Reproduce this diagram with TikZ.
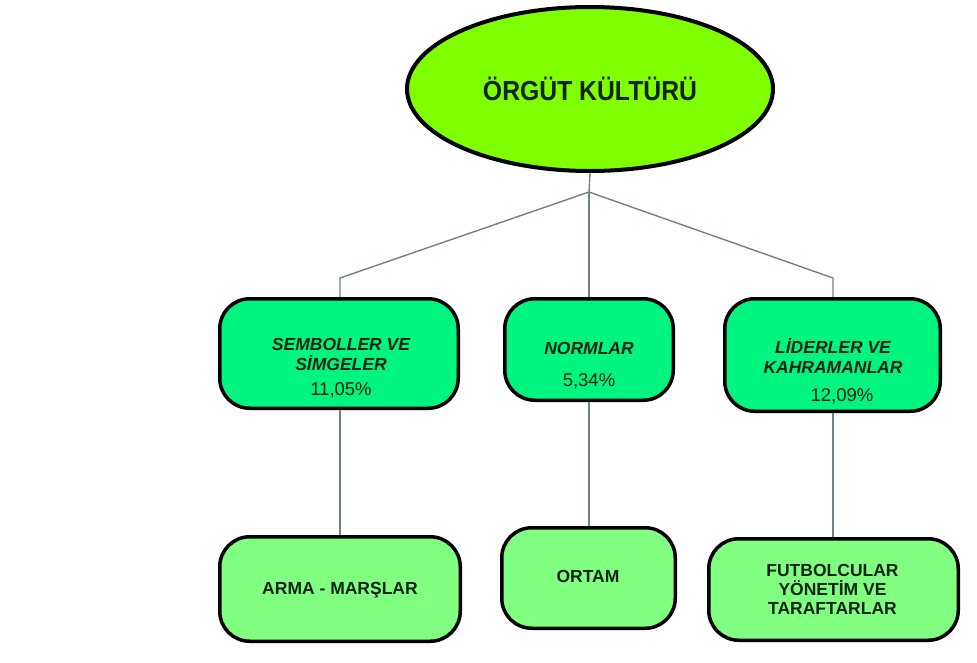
\documentclass[tikz,border=0pt]{standalone}
\usepackage{fontspec}
\setmainfont{Liberation Sans}
\newfontfamily\narrowsans[FakeStretch=0.9]{Liberation Sans}
\usetikzlibrary{shapes.geometric}
\definecolor{limec}{RGB}{128,255,0}
\definecolor{rowone}{RGB}{0,245,128}
\definecolor{rowtwo}{RGB}{128,255,128}
\definecolor{linec}{RGB}{112,128,140}
\definecolor{txtc}{RGB}{15,35,20}
\begin{document}
\begin{tikzpicture}[x=1pt,y=-1pt,
  conn/.style={draw=linec, line width=1.4pt},
  boxone/.style={draw=black, line width=3.5pt, fill=rowone, rounded corners=30pt, inner sep=0pt},
  boxtwo/.style={draw=black, line width=3.5pt, fill=rowtwo, rounded corners=30pt, inner sep=0pt},
  txt/.style={text=txtc, align=center, inner sep=0pt},
  headtxt/.style={txt, font=\fontsize{17.5}{20}\selectfont\bfseries\itshape},
  bottxt/.style={txt, font=\fontsize{17.5}{19}\selectfont\bfseries}]
\useasboundingbox (0,0) rectangle (977,662);

% top ellipse
\node[ellipse, draw=black, line width=4pt, fill=limec, minimum width=366pt, minimum height=164pt, inner sep=0pt,
      text=txtc, font=\narrowsans\fontsize{27.5}{30}\selectfont\bfseries] (org) at (590,89) {ÖRGÜT KÜLTÜRÜ};

% first row boxes
\node[boxone, minimum width=238.5pt, minimum height=109.5pt] (sem) at (339,353.5) {};
\node[boxone, minimum width=168.5pt, minimum height=101.5pt] (norm) at (589,349.5) {};
\node[boxone, minimum width=215.5pt, minimum height=112.5pt] (lid) at (832.5,355) {};

% second row boxes
\node[boxtwo, minimum width=240.5pt, minimum height=104.5pt] (arma) at (340,589) {};
\node[boxtwo, minimum width=173.5pt, minimum height=100.5pt] (ortam) at (588.5,578) {};
\node[boxtwo, minimum width=249.5pt, minimum height=101.5pt] (fut) at (833.5,589.5) {};

% texts
\node[headtxt] (semT) at (341,368) {SEMBOLLER VE\\SİMGELER\\[5pt]{\fontsize{18.5}{20}\selectfont\mdseries\upshape 11,05\%}};
\node[headtxt] (normT) at (589,366) {NORMLAR\\[12pt]{\fontsize{18.5}{20}\selectfont\mdseries\upshape 5,34\%}};
\node[headtxt] (lidT) at (833,371) {LİDERLER VE\\KAHRAMANLAR\\[8pt]{\fontsize{18.5}{20}\selectfont\mdseries\upshape\hspace*{18pt}12,09\%}};
\node[bottxt] (armaT) at (340,590) {ARMA - MARŞLAR};
\node[bottxt] (ortamT) at (588,576.7) {ORTAM};
\node[bottxt] (futT) at (832.5,589.7) {FUTBOLCULAR\\YÖNETİM VE\\TARAFTARLAR};

% connectors
\coordinate (j) at (589,192);
\coordinate (lc) at (340,278);
\coordinate (rc) at (833,278);
\draw[conn] (org.south) -- (j);
\draw[conn] (j) -- (lc) -- (lc |- sem.north);
\draw[conn] (j) -- (j |- norm.north);
\draw[conn] (j) -- (rc) -- (rc |- lid.north);
\draw[conn] (sem.south -| lc) -- (lc |- arma.north);
\draw[conn] (norm.south -| j) -- (j |- ortam.north);
\draw[conn] (lid.south -| rc) -- (rc |- fut.north);
\end{tikzpicture}
\end{document}
